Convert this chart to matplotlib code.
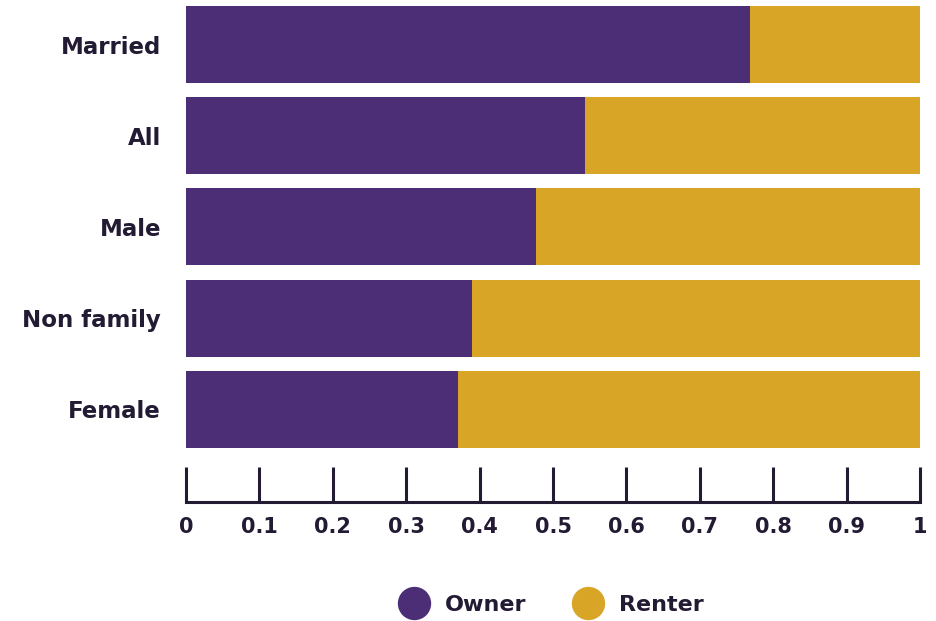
import matplotlib.pyplot as plt
from matplotlib.lines import Line2D

categories = ["Married", "All", "Male", "Non family", "Female"]
owner = [0.768, 0.544, 0.477, 0.390, 0.371]
renter = [1 - v for v in owner]
ticks = [0, 0.1, 0.2, 0.3, 0.4, 0.5, 0.6, 0.7, 0.8, 0.9, 1]
tick_labels = ["0", "0.1", "0.2", "0.3", "0.4", "0.5", "0.6", "0.7", "0.8", "0.9", "1"]

purple = "#4B2E76"
gold = "#D8A526"
ink = "#231A33"

plt.rcParams['font.family'] = ['DejaVu Sans']
plt.rcParams['font.weight'] = 'bold'

W, H = 936, 621
fig = plt.figure(figsize=(W / 100, H / 100), dpi=100)

# bars
ax = fig.add_axes([186 / W, 1 - 455 / H, 734 / W, 455 / H])
y = list(range(len(categories)))
ax.barh(y, owner, height=0.844, color=purple)
ax.barh(y, renter, left=owner, height=0.844, color=gold)
ax.set_xlim(0, 1)
ax.set_ylim(4.5, -0.488)
ax.set_yticks(y)
ax.set_yticklabels(categories, fontsize=16.5, fontweight='bold', color=ink)
ax.tick_params(axis='y', length=0, pad=18)
ax.set_xticks([])
for s in ax.spines.values():
    s.set_visible(False)

# separate axis line below the bars
ax2 = fig.add_axes([186 / W, 1 - 502 / H, 734 / W, 35 / H])
ax2.set_xlim(0, 1)
ax2.set_yticks([])
ax2.patch.set_visible(False)
for k in ["left", "right", "top"]:
    ax2.spines[k].set_visible(False)
ax2.spines["bottom"].set_linewidth(2.2)
ax2.spines["bottom"].set_color(ink)
ax2.spines["bottom"].set_capstyle("projecting")
ax2.set_xticks(ticks)
ax2.set_xticklabels(tick_labels, fontsize=15, fontweight='bold', color=ink)
ax2.tick_params(axis='x', direction='in', length=25, width=2.2, color=ink, pad=11)

handles = [Line2D([], [], marker='o', linestyle='', markersize=23, color=purple),
           Line2D([], [], marker='o', linestyle='', markersize=23, color=gold)]
fig.legend(handles, ["Owner", "Renter"], loc='center', bbox_to_anchor=(0.585, 1 - 605 / H),
           ncol=2, frameon=False, prop={'size': 16, 'weight': 'bold'}, labelcolor=ink,
           handletextpad=0.4, columnspacing=1.75)

fig.savefig("out.png", dpi=100)
